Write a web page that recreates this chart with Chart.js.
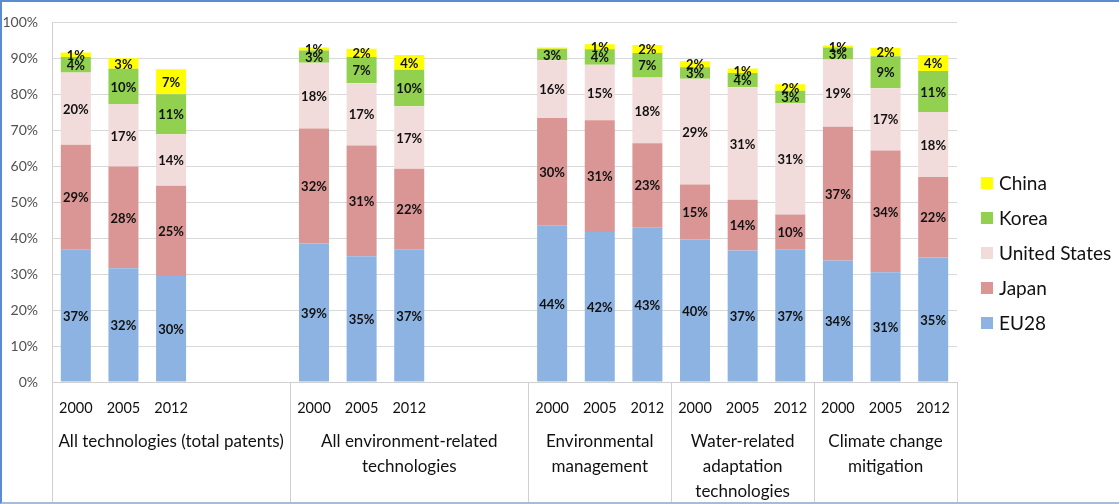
<!DOCTYPE html>
<html>
<head>
<meta charset="utf-8">
<script src="https://cdn.jsdelivr.net/npm/chart.js@4.4.1/dist/chart.umd.min.js"></script>
<style>
  html,body{margin:0;padding:0;background:#fff;}
  #wrap{position:relative;width:1119px;height:504px;overflow:hidden;}
  #frame{position:absolute;left:0;top:0;width:1119px;height:504px;box-sizing:border-box;
    border-top:2px solid #5b8bd0;border-left:2px solid #5b8bd0;border-bottom:2px solid #a9bbd9;pointer-events:none;}
  #legend{position:absolute;left:981px;top:165px;font-family:Lato,"Liberation Sans",sans-serif;font-size:19px;color:#111;}
  #legend .item{display:flex;align-items:center;height:35px;}
  #legend .box{width:12px;height:12px;margin-right:6px;flex:none;}
</style>
</head>
<body>
<div id="wrap">
  <canvas id="c"></canvas>
  <div id="legend"></div>
  <div id="frame"></div>
</div>
<script>
// x slots: years under each bar, blank slots are the gaps between groups
const years = ['2000','2005','2012','','', '2000','2005','2012','','',
  '2000','2005','2012', '2000','2005','2012', '2000','2005','2012'];
const groupNames = [
  ['All technologies (total patents)'],
  ['All environment-related','technologies'],
  ['Environmental','management'],
  ['Water-related','adaptation','technologies'],
  ['Climate change','mitigation']
];
const groupSizes = [5,5,3,3,3];

// shares in %
const eu28  = [36.9,31.6,29.5,null,null, 38.5,35.0,36.9,null,null, 43.6,41.7,43.0, 39.6,36.6,36.9, 33.8,30.5,34.6];
const japan = [29.1,28.3,25.1,null,null, 32.0,30.8,22.4,null,null, 29.8,31.1,23.4, 15.3,14.1,9.7, 37.2,33.9,22.4];
const us    = [20.1,17.4,14.3,null,null, 18.3,17.3,17.4,null,null, 16.1,15.4,18.3, 29.4,31.3,31.0, 18.7,17.3,18.1];
const korea = [4.3,9.8,11.1,null,null, 3.4,7.3,10.1,null,null, 3.2,4.3,6.8, 3.2,3.9,3.4, 3.3,8.9,11.4];
const china = [1.2,2.9,7.0,null,null, 0.8,2.3,4.1,null,null, 0.3,1.4,2.2, 1.7,1.3,1.8, 0.6,2.3,4.4];

const FONT = 'Lato, "Liberation Sans", sans-serif';

const series = [
  {label:'EU28', data:eu28, color:'#8db3e2'},
  {label:'Japan', data:japan, color:'#d99694'},
  {label:'United States', data:us, color:'#f2dcdb'},
  {label:'Korea', data:korea, color:'#92d050'},
  {label:'China', data:china, color:'#ffff00'}
];

// value labels in the middle of each segment
const segLabels = {
  id:'segLabels',
  afterDatasetsDraw(chart){
    const ctx = chart.ctx;
    ctx.save();
    ctx.font = 'bold 13px ' + FONT;
    ctx.fillStyle = '#111';
    ctx.textAlign = 'center';
    ctx.textBaseline = 'middle';
    chart.data.datasets.forEach((ds,i)=>{
      chart.getDatasetMeta(i).data.forEach((bar,j)=>{
        const v = ds.data[j];
        if(v==null || v<0.5) return;
        const p = bar.getProps(['x','y','base'],true);
        ctx.fillText(Math.round(v)+'%', p.x, (p.y+p.base)/2+1);
      });
    });
    ctx.restore();
  }
};

// group separators and group names under the year labels
const groupAxis = {
  id:'groupAxis',
  afterDraw(chart){
    const ctx = chart.ctx, x = chart.scales.x, area = chart.chartArea;
    const step = x.width / years.length;
    const edge = (i)=> x.getPixelForValue(Math.min(i,years.length-1)) + (i>=years.length ? step/2 : -step/2);
    ctx.save();
    ctx.strokeStyle = '#d0d0d0';
    ctx.lineWidth = 1;
    let start = 0;
    const bounds = [0];
    groupSizes.forEach(n=>{ start += n; bounds.push(start); });
    bounds.forEach(b=>{
      const px = Math.round(edge(b))+0.5;
      ctx.beginPath(); ctx.moveTo(px, area.bottom); ctx.lineTo(px, chart.height); ctx.stroke();
    });
    ctx.font = '17px ' + FONT;
    ctx.fillStyle = '#111';
    ctx.textAlign = 'center';
    ctx.textBaseline = 'middle';
    groupNames.forEach((lines,g)=>{
      const cx = (edge(bounds[g]) + edge(bounds[g+1]))/2;
      lines.forEach((t,k)=> ctx.fillText(t, cx, area.bottom + 60 + k*25));
    });
    ctx.restore();
  }
};

const chart = new Chart(document.getElementById('c'), {
  type:'bar',
  data:{
    labels: years,
    datasets: series.map(s=>({label:s.label, data:s.data, backgroundColor:s.color,
      borderWidth:0, categoryPercentage:1, barPercentage:0.63}))
  },
  options:{
    responsive:true,
    maintainAspectRatio:false,
    animation:false,
    layout:{padding:{top:13,right:162,left:0,bottom:0}},
    plugins:{legend:{display:false}, tooltip:{enabled:false}},
    scales:{
      x:{
        stacked:true,
        grid:{display:false},
        border:{display:true,color:'#d0d0d0'},
        ticks:{font:{family:FONT,size:14.5},color:'#111',padding:10,maxRotation:0,autoSkip:false},
        afterFit(s){ s.height = 122; }
      },
      y:{
        stacked:true, min:0, max:100,
        grid:{color:'#d9d9d9',drawTicks:false},
        border:{display:true,color:'#d0d0d0'},
        ticks:{stepSize:10,font:{family:FONT,size:14},color:'#505050',padding:14,callback:v=>v+'%'},
        afterFit(s){ s.width = 52; }
      }
    }
  },
  plugins:[segLabels, groupAxis]
});

// legend, top item is the top segment
const leg = document.getElementById('legend');
chart.data.datasets.slice().reverse().forEach(ds=>{
  const it = document.createElement('div'); it.className='item';
  const b = document.createElement('span'); b.className='box'; b.style.background = ds.backgroundColor;
  const t = document.createElement('span'); t.textContent = ds.label;
  it.appendChild(b); it.appendChild(t); leg.appendChild(it);
});
</script>
</body>
</html>
